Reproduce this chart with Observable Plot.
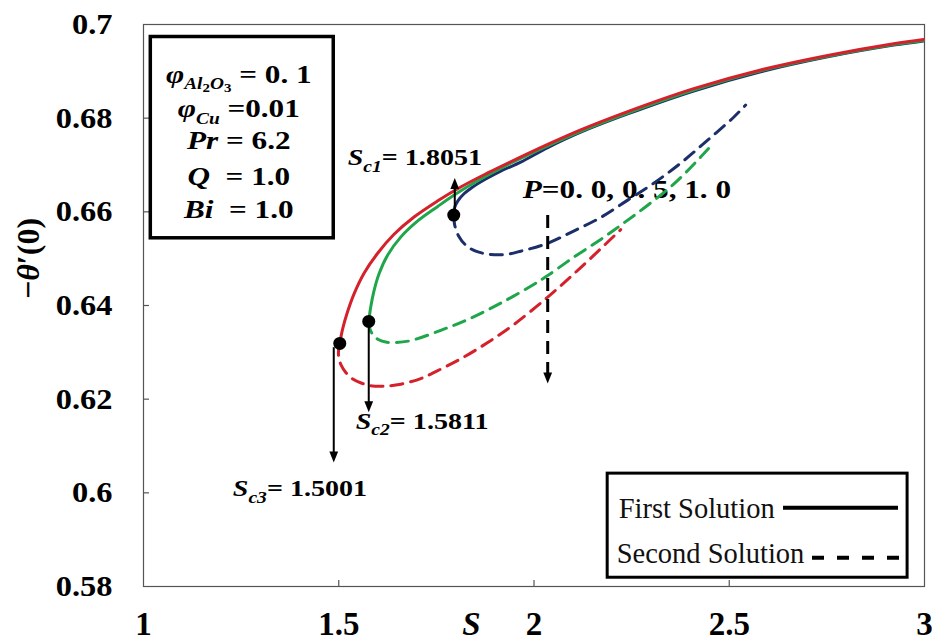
<!DOCTYPE html>
<html>
<head>
<meta charset="utf-8">
<script src="https://cdn.jsdelivr.net/npm/d3@7"></script>
<script src="https://cdn.jsdelivr.net/npm/@observablehq/plot@0.6"></script>
<style>
html, body { margin: 0; padding: 0; background: #fff; }
svg { display: block; }
</style>
</head>
<body>
<div id="chart"></div>
<script>
// ---------- axis ticks ----------
const xTicks = [1, 1.5, 2, 2.5, 3];
const xTickLabels = ["1", "1.5", "2", "2.5", "3"];
const yTicks = [0.58, 0.6, 0.62, 0.64, 0.66, 0.68, 0.7];
const yTickLabels = ["0.58", "0.6", "0.62", "0.64", "0.66", "0.68", "0.7"];

// ---------- series ----------
const pValues = ["0.0", "0.5", "1.0"];
const pColors = ["#1d2f6a", "#1fa64a", "#d4212b"];
const criticalS = [1.7945, 1.5768, 1.5026];
const criticalTheta = [0.6593, 0.6366, 0.6319];
const criticalLabels = ["Sc1= 1.8051", "Sc2= 1.5811", "Sc3= 1.5001"];

// P = 0.0
const firstS_P00 = [1.7945, 1.7971, 1.8047, 1.8201, 1.8431, 1.8764, 1.9148, 1.9660, 2.0351, 2.1196, 2.2399, 2.4089, 2.5804, 2.7520, 2.9209, 2.9977];
const firstT_P00 = [0.6593, 0.6610, 0.6623, 0.6638, 0.6653, 0.6670, 0.6687, 0.6706, 0.6737, 0.6770, 0.6809, 0.6858, 0.6899, 0.6931, 0.6956, 0.6965];
const secondS_P00 = [1.7945, 1.7971, 1.8073, 1.8252, 1.8508, 1.8892, 1.9276, 1.9660, 2.0351, 2.1016, 2.1708, 2.2399, 2.3065, 2.3756, 2.4447, 2.5113, 2.5420];
const secondT_P00 = [0.6593, 0.6571, 0.6548, 0.6529, 0.6516, 0.6509, 0.6509, 0.6516, 0.6533, 0.6559, 0.6588, 0.6625, 0.6661, 0.6704, 0.6753, 0.6802, 0.6828];

// P = 0.5
const firstS_P05 = [1.5768, 1.5819, 1.5904, 1.6032, 1.6247, 1.6587, 1.7015, 1.7527, 1.7995, 1.8635, 1.9480, 2.0351, 2.1196, 2.2399, 2.4089, 2.5804, 2.7520, 2.9209, 2.9977];
const firstT_P05 = [0.6366, 0.6397, 0.6432, 0.6468, 0.6507, 0.6546, 0.6580, 0.6611, 0.6638, 0.6670, 0.6707, 0.6741, 0.6772, 0.6811, 0.6860, 0.6901, 0.6932, 0.6957, 0.6966];
const secondS_P05 = [1.5768, 1.5794, 1.5871, 1.5999, 1.6203, 1.6459, 1.6843, 1.7611, 1.8303, 1.9147, 1.9992, 2.0351, 2.1016, 2.1708, 2.2296, 2.2911, 2.3576, 2.4268, 2.4600];
const secondT_P05 = [0.6366, 0.6351, 0.6338, 0.6328, 0.6322, 0.6321, 0.6325, 0.6347, 0.6370, 0.6405, 0.6445, 0.6464, 0.6503, 0.6541, 0.6576, 0.6614, 0.6659, 0.6717, 0.6747];

// P = 1.0
const firstS_P10 = [1.5026, 1.5103, 1.5223, 1.5392, 1.5648, 1.5991, 1.6416, 1.6928, 1.7527, 1.8123, 1.8815, 1.9480, 2.0351, 2.1196, 2.2399, 2.4089, 2.5804, 2.7520, 2.9209, 2.9977];
const firstT_P10 = [0.6319, 0.6351, 0.6386, 0.6425, 0.6469, 0.6511, 0.6552, 0.6589, 0.6623, 0.6653, 0.6683, 0.6710, 0.6744, 0.6775, 0.6814, 0.6863, 0.6903, 0.6934, 0.6959, 0.6968];
const secondS_P10 = [1.5026, 1.4995, 1.5000, 1.5064, 1.5180, 1.5359, 1.5589, 1.5871, 1.6203, 1.6587, 1.7099, 1.7534, 1.8123, 1.8815, 1.9480, 2.0351, 2.1196, 2.2220];
const secondT_P10 = [0.6319, 0.6304, 0.6289, 0.6272, 0.6257, 0.6243, 0.6234, 0.6228, 0.6228, 0.6232, 0.6244, 0.6261, 0.6286, 0.6321, 0.6359, 0.6418, 0.6481, 0.6562];

// ---------- text ----------
const boxLines = ["φAl2O3 = 0. 1", "φCu =0.01", "Pr = 6.2", "Q\u00a0 = 1.0", "Bi\u00a0 = 1.0"];
const pLabel = "P=0. 0, 0. 5, 1. 0";
const legendLabels = ["First Solution", "Second Solution"];
const xTitle = "S";
const yTitle = "−θ′(0)";

// ---------- build table ----------
const seriesList = [
  {p: 0, kind: "second", S: secondS_P00, T: secondT_P00},
  {p: 1, kind: "second", S: secondS_P05, T: secondT_P05},
  {p: 2, kind: "second", S: secondS_P10, T: secondT_P10},
  {p: 0, kind: "first", S: firstS_P00, T: firstT_P00},
  {p: 1, kind: "first", S: firstS_P05, T: firstT_P05},
  {p: 2, kind: "first", S: firstS_P10, T: firstT_P10}
];

const serif = "Liberation Serif, Tinos, DejaVu Serif, serif";

const triDown = {draw(ctx, size) { const r = Math.sqrt(size / Math.PI); ctx.moveTo(-r * 0.8, -r); ctx.lineTo(r * 0.8, -r); ctx.lineTo(0, r); ctx.closePath(); }};
const triUp = {draw(ctx, size) { const r = Math.sqrt(size / Math.PI); ctx.moveTo(-r * 0.8, r); ctx.lineTo(r * 0.8, r); ctx.lineTo(0, -r); ctx.closePath(); }};

const lineMarks = seriesList.map(s => Plot.line(s.S.map((x, i) => ({S: x, T: s.T[i]})), {
  x: "S", y: "T", stroke: pColors[s.p], strokeWidth: 3,
  strokeDasharray: s.kind === "second" ? "12,8" : null,
  curve: "catmull-rom"
}));

const critData = criticalS.map((s, i) => ({S: s, T: criticalTheta[i], label: criticalLabels[i]}));

const chart = Plot.plot({
  width: 932, height: 641,
  marginLeft: 143, marginRight: 8, marginTop: 24, marginBottom: 55,
  x: {domain: [1, 3], axis: null},
  y: {domain: [0.58, 0.7], axis: null},
  style: {fontFamily: serif, background: "white", color: "black"},
  marks: [
    Plot.frame({stroke: "#555", strokeWidth: 1.2}),
    Plot.ruleX(xTicks.slice(1, -1), {y1: 0.58, y2: 0.5813, stroke: "#555", strokeWidth: 1.2}),
    Plot.ruleY(yTicks.slice(1, -1), {x1: 1, x2: 1.0154, stroke: "#555", strokeWidth: 1.2}),
    // tick labels
    Plot.text(xTicks, {x: d => d, frameAnchor: "bottom", dy: 38, text: (d, i) => xTickLabels[i],
      textAnchor: "middle", fontSize: 33, fontWeight: "bold", fontFamily: serif, fill: "black", lineAnchor: "middle"}),
    Plot.text(yTicks, {y: d => d, frameAnchor: "left", dx: -31, textAnchor: "end", text: (d, i) => yTickLabels[i],
      fontSize: 30, fontWeight: "bold", fontFamily: serif, fill: "black", lineAnchor: "middle"}),
    Plot.text([xTitle], {x: 1.84, frameAnchor: "bottom", dy: 38, text: d => d, textAnchor: "middle", fontSize: 33, fontWeight: "bold",
      fontStyle: "italic", fontFamily: serif, fill: "black", lineAnchor: "middle"}),
    Plot.text([yTitle], {frameAnchor: "left", dx: -115, dy: -47, rotate: -90, text: d => d, textAnchor: "middle", fontSize: 32,
      fontWeight: "bold", fontFamily: serif, fill: "black", lineAnchor: "middle"}),
    // P label (under the curves)
    Plot.text([pLabel], {x: 1.9711, y: 0.6629, text: d => d, textAnchor: "start", lineAnchor: "bottom",
      fontSize: 26, fontWeight: "bold", fontFamily: serif, fill: "black"}),
    ...lineMarks,
    // parameter box
    Plot.rect([0], {x1: 1.0187, x2: 1.4872, y1: 0.65435, y2: 0.69733, fill: "white", stroke: "black", strokeWidth: 3.5}),
    Plot.text(boxLines, {x: 1.244, y: (d, i) => [0.68749, 0.68022, 0.67338, 0.66568, 0.65863][i], text: d => d,
      textAnchor: "middle", lineAnchor: "bottom", fontSize: 26, fontWeight: "bold", fontFamily: serif, fill: "black"}),
    // legend box
    Plot.rect([0], {x1: 2.1887, x2: 2.9567, y1: 0.58187, y2: 0.6041, fill: "white", stroke: "black", strokeWidth: 3}),
    Plot.text(legendLabels, {x: (d, i) => [2.2169, 2.2118][i], y: (d, i) => [0.5947, 0.58508][i], text: d => d,
      textAnchor: "start", lineAnchor: "bottom", fontSize: 28.5, fontFamily: serif, fill: "#111"}),
    Plot.ruleY([0.59683], {x1: 2.639, x2: 2.9334, stroke: "black", strokeWidth: 4}),
    Plot.ruleY([0.58614], {x1: 2.7132, x2: 2.9385, stroke: "black", strokeWidth: 4, strokeDasharray: "12,13"}),
    // arrows
    Plot.link([0], {x1: 1.7971, x2: 1.7971, y1: 0.6593, y2: 0.6652, stroke: "black", strokeWidth: 2}),
    Plot.dot([0], {x: 1.7971, y: 0.6672, symbol: triUp, r: 5.5, fill: "black", dy: 5.5}),
    Plot.link([0], {x1: 1.5768, x2: 1.5768, y1: 0.6366, y2: 0.6193, stroke: "black", strokeWidth: 2}),
    Plot.dot([0], {x: 1.5768, y: 0.6172, symbol: triDown, r: 5.5, fill: "black", dy: -5.5}),
    Plot.link([0], {x1: 1.4872, x2: 1.4872, y1: 0.6311, y2: 0.6086, stroke: "black", strokeWidth: 2}),
    Plot.dot([0], {x: 1.4872, y: 0.6065, symbol: triDown, r: 5.5, fill: "black", dy: -5.5}),
    Plot.link([0], {x1: 2.0351, x2: 2.0351, y1: 0.6593, y2: 0.6252, stroke: "black", strokeWidth: 3, strokeDasharray: "13,8"}),
    Plot.dot([0], {x: 2.0351, y: 0.62335, symbol: triDown, r: 5.5, fill: "black", dy: -5.5}),
    // critical points
    Plot.dot(critData, {x: "S", y: "T", r: 6.5, fill: "black"}),
    Plot.text(critData, {x: (d, i) => [1.523, 1.5435, 1.2287][i], y: (d, i) => [0.66996, 0.61373, 0.5994][i], text: "label",
      textAnchor: "start", lineAnchor: "bottom", fontSize: 23, fontWeight: "bold", fontFamily: serif, fill: "black"})
  ]
});

// ---------- rich text (subscripts, italics) and horizontal stretch ----------
const svgNS = "http://www.w3.org/2000/svg";
const rich = {
  "φAl2O3 = 0. 1": {base: 26, segs: [{t: "φ", it: 1}, {t: "Al", it: 1, size: 0.62, off: 0.24}, {t: "2", size: 0.48, off: 0.36}, {t: "O", it: 1, size: 0.62, off: 0.24}, {t: "3", size: 0.48, off: 0.36}, {t: " = 0. 1", off: 0}]},
  "φCu =0.01": {base: 26, segs: [{t: "φ", it: 1}, {t: "Cu", it: 1, size: 0.62, off: 0.26}, {t: " =0.01", off: 0}]},
  "Pr = 6.2": {base: 26, segs: [{t: "Pr", it: 1}, {t: " = 6.2"}]},
  "Q\u00a0 = 1.0": {base: 26, segs: [{t: "Q", it: 1}, {t: "\u00a0 = 1.0"}]},
  "Bi\u00a0 = 1.0": {base: 26, segs: [{t: "Bi", it: 1}, {t: "\u00a0 = 1.0"}]},
  "Sc1= 1.8051": {base: 23, segs: [{t: "S", it: 1}, {t: "c1", it: 1, size: 0.7, off: 0.3}, {t: "= 1.8051", off: 0}]},
  "Sc2= 1.5811": {base: 23, segs: [{t: "S", it: 1}, {t: "c2", it: 1, size: 0.7, off: 0.3}, {t: "= 1.5811", off: 0}]},
  "Sc3= 1.5001": {base: 23, segs: [{t: "S", it: 1}, {t: "c3", it: 1, size: 0.7, off: 0.3}, {t: "= 1.5001", off: 0}]},
  "P=0. 0, 0. 5, 1. 0": {base: 26, segs: [{t: "P", it: 1}, {t: "=0. 0, 0. 5, 1. 0"}]},
  "−θ′(0)": {base: 32, segs: [{t: "−"}, {t: "θ", it: 1}, {t: "′(0)"}]}
};
const stretchBy = {};
yTickLabels.forEach(t => stretchBy[t] = 1.08);
boxLines.forEach(t => stretchBy[t] = 1.2);
criticalLabels.forEach(t => stretchBy[t] = 1.22);
stretchBy[pLabel] = 1.2;

chart.querySelectorAll("text").forEach(el => {
  const orig = el.textContent;
  const spec = rich[orig];
  if (spec) {
    el.textContent = "";
    let level = 0;
    for (const s of spec.segs) {
      const ts = document.createElementNS(svgNS, "tspan");
      const off = (s.off || 0) * spec.base;
      if (off !== level) ts.setAttribute("dy", (off - level).toFixed(2));
      level = off;
      if (s.size) ts.setAttribute("font-size", (s.size * spec.base).toFixed(2));
      if (s.it) ts.setAttribute("font-style", "italic");
      ts.textContent = s.t;
      el.appendChild(ts);
    }
  }
  const sx = stretchBy[orig];
  if (sx) {
    let tr = el.getAttribute("transform");
    if (!tr) {
      const x = parseFloat(el.getAttribute("x")) || 0;
      el.removeAttribute("x");
      tr = `translate(${x},0)`;
    }
    el.setAttribute("transform", tr + ` scale(${sx},1)`);
  }
});

document.getElementById("chart").appendChild(chart);
</script>
</body>
</html>
